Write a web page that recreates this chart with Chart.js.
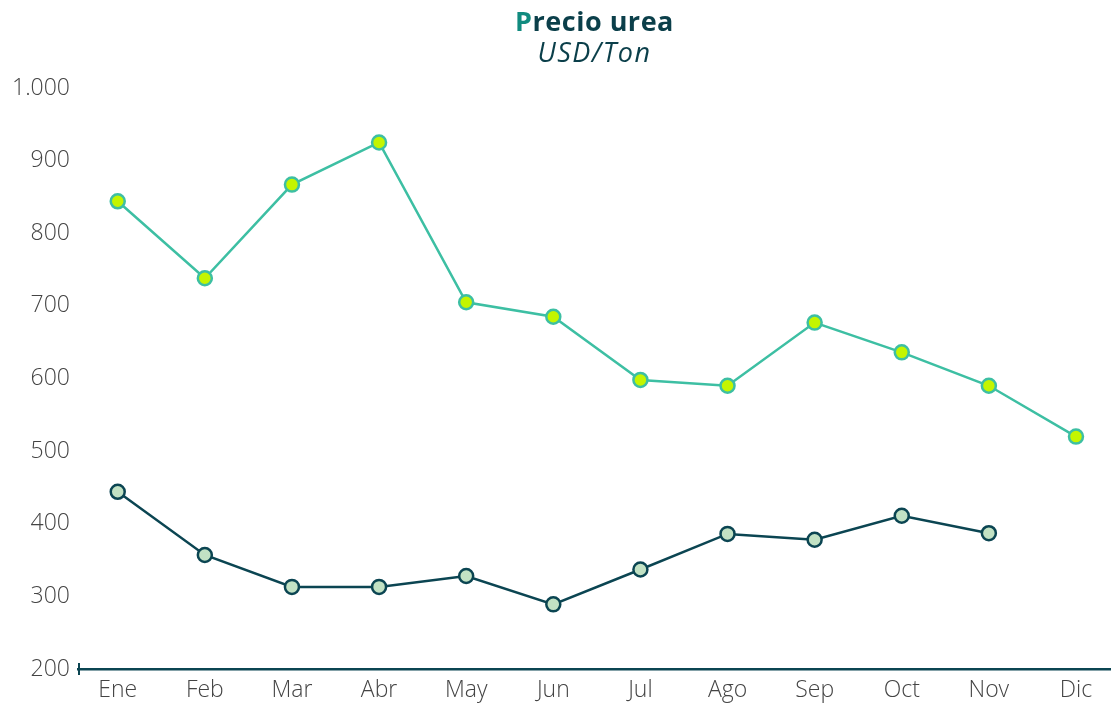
<!DOCTYPE html>
<html>
<head>
<meta charset="utf-8">
<script src="https://cdn.jsdelivr.net/npm/chart.js@4.4.1/dist/chart.umd.min.js"></script>
<style>
  html, body { margin: 0; padding: 0; background: #ffffff; }
  #wrap { position: relative; width: 1111px; height: 703px; }
  #title { position: absolute; left: 78px; width: 1033px; top: 5px; text-align: center;
           font-family: "Open Sans", Lato, sans-serif; color: #0b3f4a; font-size: 27px; line-height: 31px; letter-spacing: 0.5px; }
  #title .t1 { font-weight: 700; }
  #title .p { color: #118b7f; }
  #title .t2 { font-style: italic; font-weight: 400; letter-spacing: 1.5px; }
  canvas { position: absolute; left: 0; top: 0; }
</style>
</head>
<body>
<div id="wrap">
  <canvas id="c" width="1111" height="703"></canvas>
  <div id="title"><div class="t1"><span class="p">P</span>recio urea</div><div class="t2">USD/Ton</div></div>
</div>
<script>
const months = ['Ene','Feb','Mar','Abr','May','Jun','Jul','Ago','Sep','Oct','Nov','Dic'];
const precioAnterior = [844, 738, 867, 925, 705, 685, 598, 590, 677, 636, 590, 520];
const precioActual = [444, 357, 313, 313, 328, 289, 337, 386, 378, 411, 387, null];
const yMin = 200, yMax = 1000, yStep = 100;

const toPoints = arr => arr.map((v, i) => ({ x: i, y: v }));
const fmt = v => String(v).replace(/\B(?=(\d{3})+(?!\d))/g, '.');

const cornerTick = {
  id: 'cornerTick',
  afterDraw(chart) {
    const { ctx, chartArea } = chart;
    ctx.save();
    ctx.strokeStyle = '#0b4552';
    ctx.lineWidth = 2;
    ctx.beginPath();
    ctx.moveTo(chartArea.left + 1, chartArea.bottom - 6);
    ctx.lineTo(chartArea.left + 1, chartArea.bottom + 6);
    ctx.stroke();
    ctx.restore();
  }
};

const tickFont = { family: '"Open Sans"', size: 23, weight: 300 };

new Chart(document.getElementById('c'), {
  type: 'line',
  data: {
    datasets: [
      {
        data: toPoints(precioAnterior),
        borderColor: '#3dbfa3',
        borderWidth: 2.5,
        pointBackgroundColor: '#c4f500',
        pointBorderColor: '#3dbfa3',
        pointBorderWidth: 2.5,
        pointRadius: 7,
        tension: 0
      },
      {
        data: toPoints(precioActual),
        borderColor: '#0b4552',
        borderWidth: 2.5,
        pointBackgroundColor: '#c2e2c4',
        pointBorderColor: '#0b4552',
        pointBorderWidth: 2.5,
        pointRadius: 7,
        tension: 0
      }
    ]
  },
  options: {
    responsive: false,
    animation: false,
    layout: { autoPadding: false, padding: { top: 88, left: 0, right: 0, bottom: 0 } },
    plugins: { legend: { display: false }, tooltip: { enabled: false }, title: { display: false } },
    scales: {
      x: {
        type: 'linear',
        min: -0.456,
        max: 11.402,
        afterBuildTicks: s => { s.ticks = months.map((m, i) => ({ value: i })); },
        afterFit: s => { s.height = 34; s.paddingLeft = 0; s.paddingRight = 0; },
        grid: { display: false, drawTicks: false },
        border: { display: true, color: '#0b4552', width: 2.5 },
        ticks: {
          autoSkip: false,
          maxRotation: 0,
          padding: 8,
          color: '#444444',
          font: tickFont,
          callback: v => months[v]
        }
      },
      y: {
        min: yMin,
        max: yMax,
        afterFit: s => { s.width = 78; s.paddingTop = 0; s.paddingBottom = 0; },
        grid: { display: false, drawTicks: false },
        border: { display: false },
        ticks: {
          stepSize: yStep,
          padding: 8,
          color: '#444444',
          font: tickFont,
          callback: v => fmt(v)
        }
      }
    }
  },
  plugins: [cornerTick]
});
</script>
</body>
</html>
